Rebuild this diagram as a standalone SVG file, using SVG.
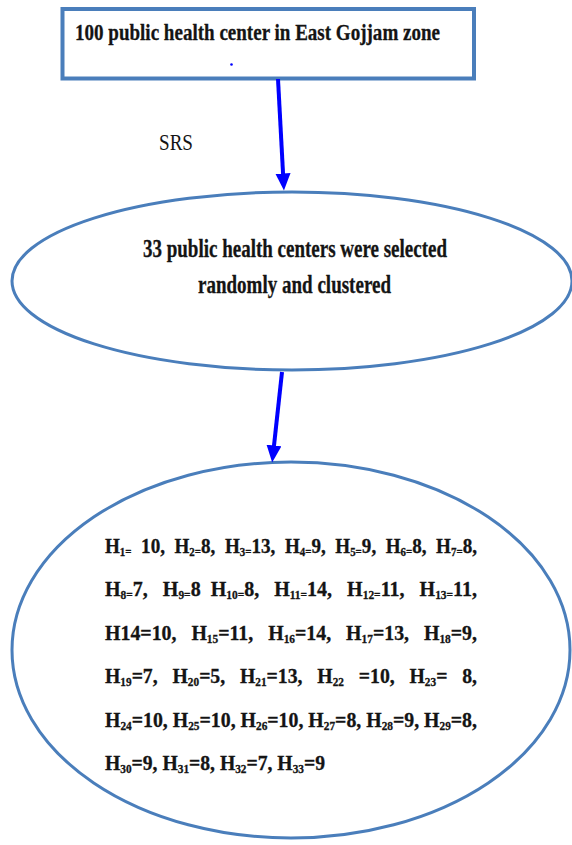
<svg xmlns="http://www.w3.org/2000/svg" width="572" height="845" viewBox="0 0 572 845">
<style>
.box{fill:#fff;stroke:#4a7ebb;stroke-width:4}
.ell{fill:#fff;stroke:#4a7ebb;stroke-width:3}
.t{font-family:"Liberation Serif","Times New Roman",serif;font-weight:bold;fill:#141414;stroke:#141414;stroke-width:0.3}
.r{font-family:"Liberation Serif","Times New Roman",serif;fill:#141414}
.conn{stroke:#0000ff;stroke-width:4;fill:none}
.s{font-size:12px}
</style>
<defs>
<marker id="ah" markerUnits="userSpaceOnUse" markerWidth="18" markerHeight="16" refX="1" refY="7.5" orient="auto">
<path d="M0,0 L17,7.5 L0,15 z" fill="#0000ff"/>
</marker>
</defs>
<rect width="572" height="845" fill="#fff"/>
<g id="node-top">
<rect class="box" x="62.5" y="9" width="411.5" height="69.5"/>
<text class="t" x="75" y="40" font-size="24" textLength="365" lengthAdjust="spacingAndGlyphs">100 public health center in East Gojjam zone</text>
<circle cx="231.5" cy="64.5" r="1.3" fill="#0000ff"/>
</g>
<g id="label-srs">
<text class="r" x="159" y="150" font-size="24" textLength="34" lengthAdjust="spacingAndGlyphs">SRS</text>
</g>
<g id="node-selected">
<ellipse class="ell" cx="292" cy="281" rx="280" ry="89"/>
<text class="t" x="143" y="257" font-size="25" textLength="304" lengthAdjust="spacingAndGlyphs">33 public health centers were selected</text>
<text class="t" x="198" y="293" font-size="25" textLength="193" lengthAdjust="spacingAndGlyphs">randomly and clustered</text>
</g>
<g id="node-clusters">
<ellipse class="ell" cx="291" cy="650" rx="279" ry="188"/>
<text class="t" x="105" y="553" font-size="21" textLength="372" lengthAdjust="spacingAndGlyphs" xml:space="preserve">H<tspan class="s" dy="3">1=</tspan><tspan dy="-3">  10,  H</tspan><tspan class="s" dy="3">2=</tspan><tspan dy="-3">8,  H</tspan><tspan class="s" dy="3">3=</tspan><tspan dy="-3">13,  H</tspan><tspan class="s" dy="3">4=</tspan><tspan dy="-3">9,  H</tspan><tspan class="s" dy="3">5=</tspan><tspan dy="-3">9,  H</tspan><tspan class="s" dy="3">6=</tspan><tspan dy="-3">8,  H</tspan><tspan class="s" dy="3">7=</tspan><tspan dy="-3">8,</tspan></text>
<text class="t" x="105" y="596" font-size="21" textLength="372" lengthAdjust="spacingAndGlyphs" xml:space="preserve">H<tspan class="s" dy="3">8=</tspan><tspan dy="-3">7,   H</tspan><tspan class="s" dy="3">9=</tspan><tspan dy="-3">8  H</tspan><tspan class="s" dy="3">10=</tspan><tspan dy="-3">8,   H</tspan><tspan class="s" dy="3">11=</tspan><tspan dy="-3">14,   H</tspan><tspan class="s" dy="3">12=</tspan><tspan dy="-3">11,   H</tspan><tspan class="s" dy="3">13=</tspan><tspan dy="-3">11,</tspan></text>
<text class="t" x="105" y="640" font-size="21" textLength="372" lengthAdjust="spacingAndGlyphs" xml:space="preserve">H14=10,   H<tspan class="s" dy="3">15</tspan><tspan dy="-3">=11,   H</tspan><tspan class="s" dy="3">16</tspan><tspan dy="-3">=14,   H</tspan><tspan class="s" dy="3">17</tspan><tspan dy="-3">=13,   H</tspan><tspan class="s" dy="3">18</tspan><tspan dy="-3">=9,</tspan></text>
<text class="t" x="105" y="683" font-size="21" textLength="372" lengthAdjust="spacingAndGlyphs" xml:space="preserve">H<tspan class="s" dy="3">19</tspan><tspan dy="-3">=7,   H</tspan><tspan class="s" dy="3">20</tspan><tspan dy="-3">=5,   H</tspan><tspan class="s" dy="3">21</tspan><tspan dy="-3">=13,   H</tspan><tspan class="s" dy="3">22</tspan><tspan dy="-3">   =10,   H</tspan><tspan class="s" dy="3">23</tspan><tspan dy="-3">=   8,</tspan></text>
<text class="t" x="105" y="727" font-size="21" textLength="372" lengthAdjust="spacingAndGlyphs" xml:space="preserve">H<tspan class="s" dy="3">24</tspan><tspan dy="-3">=10, H</tspan><tspan class="s" dy="3">25</tspan><tspan dy="-3">=10, H</tspan><tspan class="s" dy="3">26</tspan><tspan dy="-3">=10, H</tspan><tspan class="s" dy="3">27</tspan><tspan dy="-3">=8, H</tspan><tspan class="s" dy="3">28</tspan><tspan dy="-3">=9, H</tspan><tspan class="s" dy="3">29</tspan><tspan dy="-3">=8,</tspan></text>
<text class="t" x="105" y="770" font-size="21" textLength="220" lengthAdjust="spacingAndGlyphs" xml:space="preserve">H<tspan class="s" dy="3">30</tspan><tspan dy="-3">=9, H</tspan><tspan class="s" dy="3">31</tspan><tspan dy="-3">=8, H</tspan><tspan class="s" dy="3">32</tspan><tspan dy="-3">=7, H</tspan><tspan class="s" dy="3">33</tspan><tspan dy="-3">=9</tspan></text>
</g>
<g id="connectors">
<line class="conn" x1="278" y1="79" x2="283.1" y2="174.5" marker-end="url(#ah)"/>
<line class="conn" x1="282" y1="372" x2="273.9" y2="446.5" marker-end="url(#ah)"/>
</g>
</svg>
